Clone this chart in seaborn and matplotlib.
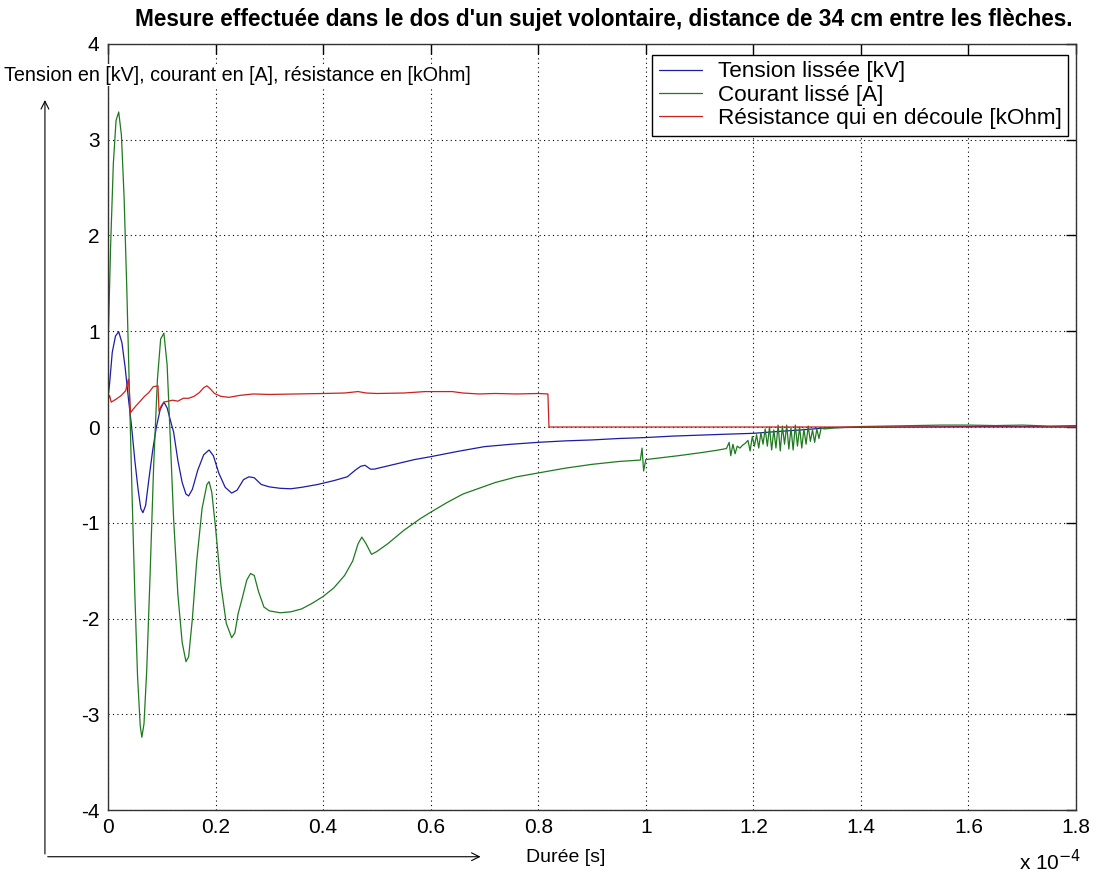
import numpy as np
import pandas as pd
import matplotlib
matplotlib.use("Agg")
import matplotlib.pyplot as plt
import seaborn as sns

# Time axis values are read in units of 1e-4 s
# -------------------------------
# Courant lissé [A]
# -------------------------------
t_courant = [0.000, 0.005, 0.010, 0.015, 0.020, 0.025, 0.030, 0.035, 0.040, 0.045,
             0.050, 0.055, 0.060, 0.063, 0.067, 0.072, 0.078, 0.085, 0.092, 0.098,
             0.104, 0.110, 0.115, 0.122, 0.130, 0.138, 0.145, 0.150, 0.157, 0.165,
             0.175, 0.184, 0.188, 0.193, 0.200, 0.210, 0.220, 0.230, 0.236, 0.242,
             0.250, 0.258, 0.265, 0.272, 0.280, 0.290, 0.300, 0.320, 0.340, 0.360,
             0.380, 0.400, 0.420, 0.440, 0.455, 0.465, 0.472, 0.480, 0.490, 0.500,
             0.520, 0.550, 0.580, 0.600, 0.630, 0.660, 0.690, 0.720, 0.760, 0.800,
             0.850, 0.900, 0.950, 0.990, 0.993, 0.996, 1.000, 1.030, 1.060, 1.100,
             1.130, 1.150, 1.155, 1.158, 1.162, 1.166, 1.170, 1.175, 1.180, 1.185,
             1.190, 1.194, 1.198, 1.202, 1.206, 1.210, 1.214, 1.218, 1.222, 1.226,
             1.230, 1.234, 1.238, 1.242, 1.246, 1.250, 1.254, 1.258, 1.262, 1.266,
             1.270, 1.274, 1.278, 1.282, 1.286, 1.290, 1.294, 1.298, 1.302, 1.306,
             1.310, 1.314, 1.318, 1.322, 1.326, 1.332, 1.350, 1.400, 1.450, 1.500,
             1.550, 1.600, 1.650, 1.700, 1.750, 1.800]
courant = [0.80, 1.90, 2.75, 3.20, 3.29, 3.05, 2.40, 1.45, 0.35, -0.75,
           -1.75, -2.60, -3.12, -3.24, -3.10, -2.55, -1.60, -0.40, 0.50, 0.92,
           0.98, 0.65, 0.00, -0.95, -1.75, -2.25, -2.45, -2.40, -2.00, -1.40,
           -0.85, -0.60, -0.57, -0.68, -1.05, -1.65, -2.05, -2.20, -2.15, -1.95,
           -1.78, -1.60, -1.53, -1.55, -1.72, -1.88, -1.92, -1.94, -1.93, -1.90,
           -1.84, -1.77, -1.68, -1.55, -1.40, -1.22, -1.15, -1.22, -1.33, -1.30,
           -1.22, -1.08, -0.96, -0.89, -0.79, -0.70, -0.64, -0.58, -0.52, -0.48,
           -0.43, -0.39, -0.36, -0.345, -0.22, -0.46, -0.34, -0.32, -0.30, -0.27,
           -0.245, -0.225, -0.16, -0.30, -0.18, -0.28, -0.20, -0.22, -0.19, -0.17,
           -0.14, -0.25, -0.10, -0.20, -0.08, -0.22, -0.06, -0.18, -0.02, -0.20,
           0.00, -0.24, -0.03, -0.22, 0.02, -0.25, 0.01, -0.18, 0.02, -0.23,
           -0.01, -0.24, 0.02, -0.20, 0.00, -0.22, -0.02, -0.18, 0.01, -0.15,
           -0.03, -0.16, -0.02, -0.12, -0.01, -0.02, -0.01, 0.005, 0.01, 0.015,
           0.02, 0.02, 0.015, 0.02, 0.01, 0.015]

# -------------------------------
# Tension lissée [kV]
# -------------------------------
t_tension = [0.000, 0.003, 0.008, 0.014, 0.020, 0.026, 0.032, 0.038, 0.044, 0.050,
             0.056, 0.061, 0.065, 0.070, 0.076, 0.083, 0.090, 0.097, 0.104, 0.110,
             0.117, 0.122, 0.130, 0.138, 0.145, 0.150, 0.157, 0.167, 0.178, 0.188,
             0.196, 0.206, 0.218, 0.230, 0.240, 0.252, 0.262, 0.272, 0.285, 0.300,
             0.320, 0.340, 0.360, 0.390, 0.420, 0.445, 0.460, 0.470, 0.478, 0.488,
             0.495, 0.510, 0.540, 0.570, 0.600, 0.650, 0.700, 0.750, 0.800, 0.850,
             0.900, 0.950, 1.000, 1.050, 1.100, 1.150, 1.200, 1.250, 1.290, 1.340,
             1.400, 1.500, 1.600, 1.700, 1.800]
tension = [0.30, 0.45, 0.78, 0.95, 0.995, 0.88, 0.62, 0.30, 0.00, -0.35,
           -0.65, -0.85, -0.895, -0.82, -0.55, -0.25, 0.00, 0.18, 0.26, 0.20,
           0.05, -0.05, -0.35, -0.58, -0.70, -0.72, -0.65, -0.45, -0.29, -0.24,
           -0.30, -0.48, -0.63, -0.69, -0.66, -0.55, -0.52, -0.53, -0.60, -0.625,
           -0.64, -0.645, -0.63, -0.60, -0.56, -0.52, -0.45, -0.41, -0.40, -0.44,
           -0.44, -0.42, -0.38, -0.34, -0.31, -0.255, -0.205, -0.18, -0.16, -0.145,
           -0.135, -0.12, -0.11, -0.095, -0.085, -0.075, -0.066, -0.045, -0.03, -0.007,
           -0.003, 0.0, 0.005, 0.005, 0.0]

# -------------------------------
# Résistance qui en découle [kOhm]
# -------------------------------
t_resistance = [0.000, 0.003, 0.006, 0.015, 0.025, 0.033, 0.038, 0.040, 0.042, 0.046,
                0.052, 0.060, 0.068, 0.076, 0.084, 0.093, 0.095, 0.099, 0.104, 0.112,
                0.120, 0.130, 0.140, 0.150, 0.160, 0.170, 0.178, 0.184, 0.190, 0.198,
                0.210, 0.225, 0.245, 0.270, 0.300, 0.350, 0.400, 0.440, 0.465, 0.480,
                0.500, 0.550, 0.590, 0.640, 0.660, 0.690, 0.720, 0.760, 0.800, 0.818,
                0.820, 1.800]
resistance = [0.28, 0.33, 0.26, 0.29, 0.33, 0.38, 0.50, 0.35, 0.15, 0.18,
              0.22, 0.27, 0.32, 0.36, 0.42, 0.43, 0.16, 0.22, 0.26, 0.27,
              0.28, 0.27, 0.30, 0.30, 0.32, 0.36, 0.41, 0.43, 0.40, 0.35,
              0.32, 0.31, 0.33, 0.345, 0.34, 0.345, 0.35, 0.355, 0.37, 0.355,
              0.35, 0.355, 0.37, 0.37, 0.355, 0.345, 0.35, 0.345, 0.35, 0.345,
              0.0, 0.0]

labels = ["Tension lissée [kV]", "Courant lissé [A]", "Résistance qui en découle [kOhm]"]
colors = ["#1c1ca8", "#1f7a1f", "#cc2020"]

sns.set_style("white")
plt.rcParams["font.family"] = ["Liberation Sans", "DejaVu Sans"]
plt.rcParams["text.color"] = "black"
plt.rcParams["xtick.color"] = "black"
plt.rcParams["ytick.color"] = "black"

fig = plt.figure(figsize=(10.96, 8.76), dpi=100)
ax = fig.add_axes([0.0985, 0.0753, 0.8833, 0.8745])

series = [(t_tension, tension), (t_courant, courant), (t_resistance, resistance)]
for (t, v), lab, col in zip(series, labels, colors):
    df = pd.DataFrame({"t": np.array(t) * 1e-4, "v": v})
    sns.lineplot(data=df, x="t", y="v", ax=ax, color=col, linewidth=0.9,
                 label=lab, estimator=None, sort=False)

ax.set_xlim(0, 1.8e-4)
ax.set_ylim(-4, 4)
ax.set_xticks(np.arange(0, 1.81e-4, 0.2e-4))
ax.set_xticklabels(["0", "0.2", "0.4", "0.6", "0.8", "1", "1.2", "1.4", "1.6", "1.8"],
                   fontsize=15)
ax.set_yticks(range(-4, 5))
ax.set_yticklabels([str(v) for v in range(-4, 5)], fontsize=15)
ax.set_xlabel("")
ax.set_ylabel("")
ax.grid(True, linestyle=(0, (1, 3)), color="black", linewidth=0.8)
ax.tick_params(direction="in", length=7, width=1, top=True, right=True, pad=6)
for s in ax.spines.values():
    s.set_color("#333333")
    s.set_linewidth(1.0)

leg = ax.legend(loc="upper right", bbox_to_anchor=(0.992, 0.986), fontsize=16.2,
                frameon=True, fancybox=False, edgecolor="black", framealpha=1,
                handlelength=1.9, borderpad=0.3, labelspacing=0.1, handletextpad=0.7,
                borderaxespad=0)
leg.get_frame().set_linewidth(1.0)

# title and axis annotations in the MATLAB figure style
fig.text(0.551, 0.978, "Mesure effectuée dans le dos d'un sujet volontaire, distance de 34 cm entre les flèches.",
         ha="center", va="center", fontsize=16.3, fontweight="bold")
fig.text(0.004, 0.914, "Tension en [kV], courant en [A], résistance en [kOhm]",
         ha="left", va="center", fontsize=14.2, zorder=10,
         bbox=dict(facecolor="white", edgecolor="none", pad=1))
fig.text(0.516, 0.021, "Durée [s]", ha="center", va="center", fontsize=14)
fig.text(0.958, 0.016, "x 10$^{-4}$", ha="center", va="center", fontsize=15)
fig.add_artist(matplotlib.patches.FancyArrowPatch(
    (0.041, 0.022), (0.041, 0.889), transform=fig.transFigure,
    arrowstyle="->", mutation_scale=14, color="black", linewidth=0.8))
fig.add_artist(matplotlib.patches.FancyArrowPatch(
    (0.041, 0.022), (0.441, 0.022), transform=fig.transFigure,
    arrowstyle="->", mutation_scale=14, color="black", linewidth=0.8))

fig.savefig("out.png", dpi=100)
